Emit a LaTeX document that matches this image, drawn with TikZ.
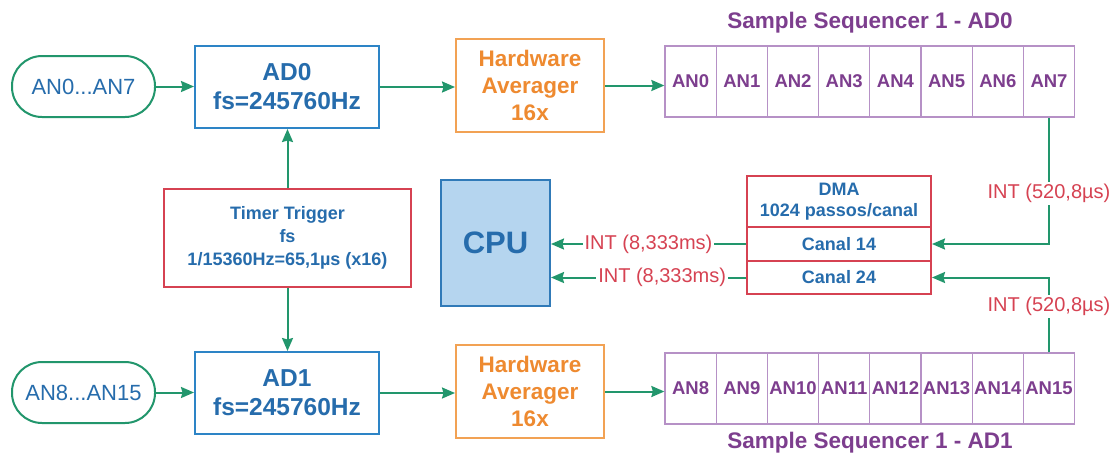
\documentclass[tikz,border=0pt]{standalone}
\usepackage{fontspec}
\setmainfont{Liberation Sans}
\usetikzlibrary{arrows.meta,calc}

\definecolor{flow}{RGB}{34,150,108}
\definecolor{adline}{RGB}{45,132,198}
\definecolor{adtext}{RGB}{38,108,172}
\definecolor{avgline}{RGB}{242,162,84}
\definecolor{avgtext}{RGB}{238,138,48}
\definecolor{seqline}{RGB}{182,145,198}
\definecolor{seqtext}{RGB}{125,62,142}
\definecolor{alert}{RGB}{214,66,82}
\definecolor{cpufill}{RGB}{181,213,239}
\definecolor{cpuline}{RGB}{48,122,184}

\tikzset{
  pill/.style={draw=flow, line width=2pt, rounded corners=30pt, inner sep=0pt,
    minimum width=143pt, minimum height=61pt, text=adtext,
    font=\fontsize{22}{26}\selectfont},
  adbox/.style={draw=adline, line width=2pt, inner sep=0pt, align=center,
    minimum width=184pt, minimum height=82pt, text=adtext,
    font=\fontsize{24.5}{29}\selectfont\bfseries},
  avgbox/.style={draw=avgline, line width=2pt, inner sep=0pt, align=center,
    minimum width=148pt, minimum height=93pt, text=avgtext,
    font=\fontsize{22.5}{27}\selectfont\bfseries},
  cell/.style={draw=seqline, line width=1.3pt, inner sep=0pt,
    minimum width=51.2pt, minimum height=71pt, text=seqtext,
    font=\fontsize{18.5}{22}\selectfont\bfseries},
  seqtitle/.style={text=seqtext, font=\fontsize{22.5}{27}\selectfont\bfseries},
  redbox/.style={draw=alert, line width=2pt, inner sep=0pt, align=center,
    text=adtext, font=\fontsize{18}{23}\selectfont\bfseries},
  cpubox/.style={draw=cpuline, fill=cpufill, line width=2pt, inner sep=0pt,
    minimum width=109pt, minimum height=126pt, text=adtext,
    font=\fontsize{31}{36}\selectfont\bfseries},
  flowarrow/.style={draw=flow, line width=2pt,
    -{Stealth[length=13pt, width=11pt, inset=1.5pt]}},
  intlabel/.style={fill=white, inner sep=2pt, text=alert,
    font=\fontsize{20}{24}\selectfont},
}

\begin{document}
\begin{tikzpicture}[x=1pt, y=-1pt]
\useasboundingbox[fill=white] (0,0) rectangle (1115,453);

% analog inputs
\node[pill] (in0) at (83.5,86.5) {AN0...AN7};
\node[pill] (in1) at (83.5,392.5) {AN8...AN15};

% converters
\node[adbox] (ad0) at (287,87) {AD0\\fs=245760Hz};
\node[adbox] (ad1) at (287,393) {AD1\\fs=245760Hz};

% hardware averagers
\node[avgbox] (avg0) at (530,85.5) {Hardware\\Averager\\16x};
\node[avgbox] (avg1) at (530,391.5) {Hardware\\Averager\\16x};

% sample sequencers
\foreach \i in {0,...,7} {
  \node[cell] (a\i) at ({665+51.2*(\i+0.5)},81.5) {AN\i};
  \pgfmathtruncatemacro\n{\i+8}
  \node[cell] (b\i) at ({665+51.2*(\i+0.5)},388.5) {AN\n};
}
\node[seqtitle] (t0) at (870,23) {Sample Sequencer 1 - AD0};
\node[seqtitle] (t1) at (870,443) {Sample Sequencer 1 - AD1};

% timer trigger
\node[redbox, minimum width=247pt, minimum height=98pt] (timer) at (287.5,238)
  {Timer Trigger\\fs\\1/15360Hz=65,1µs (x16)};

% CPU
\node[cpubox] (cpu) at (495.5,243) {CPU};

% DMA controller
\node[redbox, minimum width=184pt, minimum height=51pt,
  font=\fontsize{18}{21}\selectfont\bfseries] (dma) at (839,201.5)
  {DMA\\1024 passos/canal};
\node[redbox, minimum width=184pt, minimum height=34pt] (c14) at (839,244) {Canal 14};
\node[redbox, minimum width=184pt, minimum height=33pt] (c24) at (839,277.5) {Canal 24};

% signal flow
\draw[flowarrow] (in0.east) -- (in0.east -| ad0.west);
\draw[flowarrow] (in1.east) -- (in1.east -| ad1.west);
\draw[flowarrow] (ad0.east) -- (ad0.east -| avg0.west);
\draw[flowarrow] (ad1.east) -- (ad1.east -| avg1.west);
\draw[flowarrow] (avg0.east) -- (avg0.east -| a0.west);
\draw[flowarrow] (avg1.east) -- (avg1.east -| b0.west);
\draw[flowarrow] (timer.north) -- (timer.north |- ad0.south);
\draw[flowarrow] (timer.south) -- (timer.south |- ad1.north);

% interrupts
\draw[flowarrow] (a7.south) |- node[intlabel, pos=0.3] {INT (520,8µs)} (c14.east);
\draw[flowarrow] (b7.north) |- node[intlabel, pos=0.305] {INT (520,8µs)} (c24.east);
\draw[flowarrow] (c14.west) -- node[intlabel, pos=0.5] {INT (8,333ms)} (c14.west -| cpu.east);
\draw[flowarrow] (c24.west) -- node[intlabel, pos=0.43] {INT (8,333ms)} (c24.west -| cpu.east);
\end{tikzpicture}
\end{document}
